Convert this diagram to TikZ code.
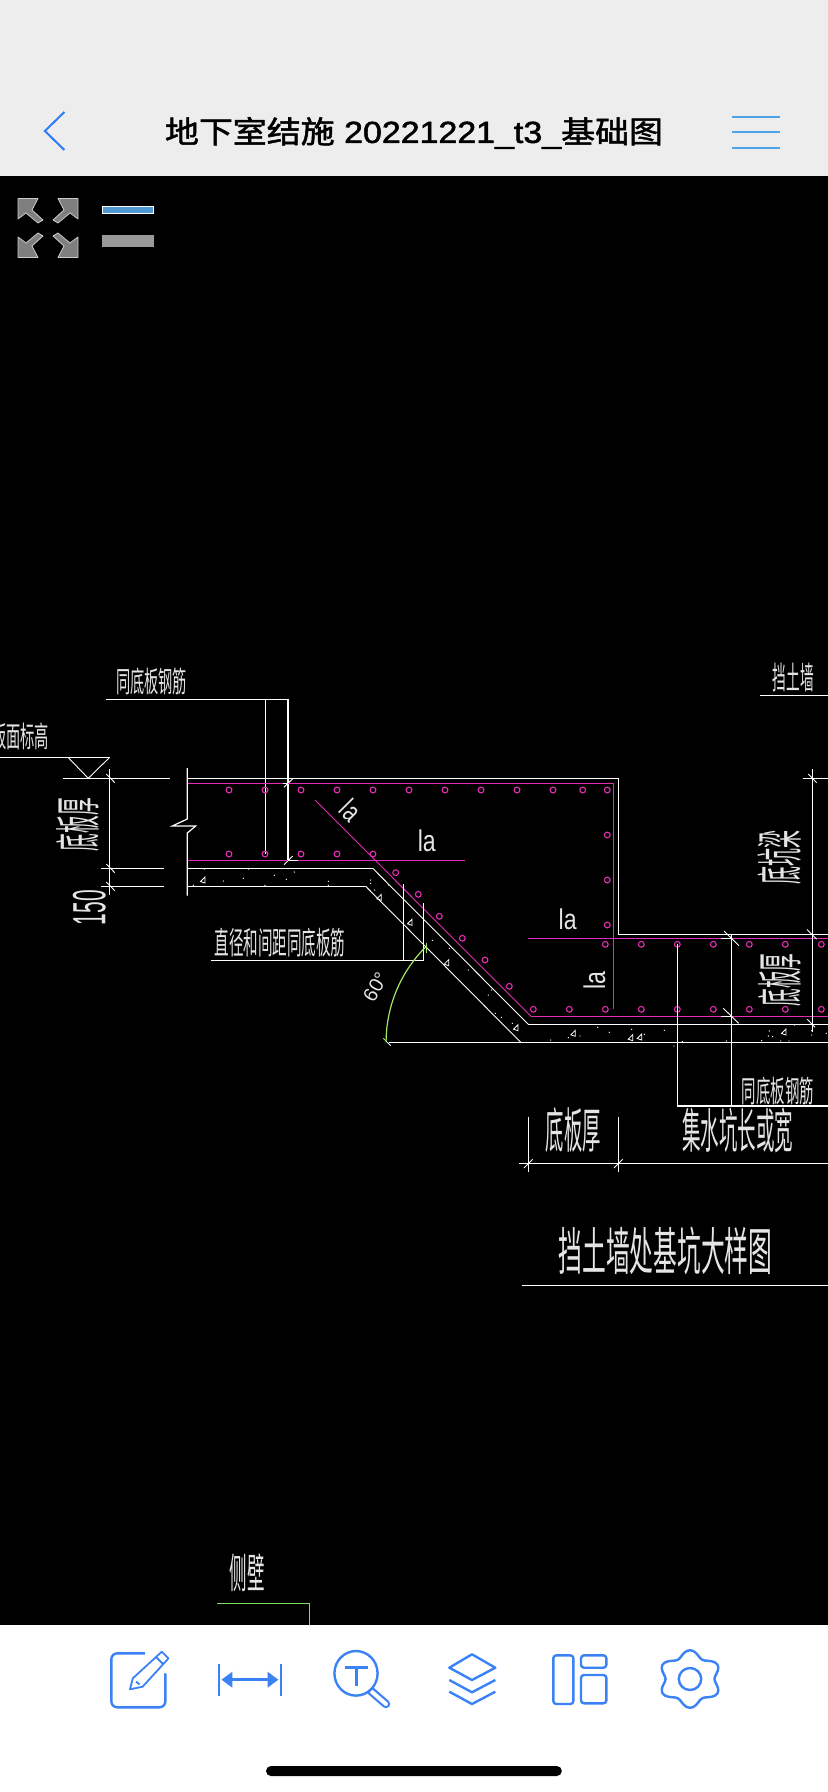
\documentclass[tikz,border=0pt]{standalone}
\usepackage{graphicx}
\usepackage{fontspec}
\setmainfont{Liberation Sans}
\newfontfamily\cjk{Noto Sans CJK SC}
\newfontfamily\cjkmed[FakeBold=1.6]{Noto Sans CJK SC}
\newfontfamily\latmed[FakeBold=1.6]{Liberation Sans}
\newdimen\pxu \pxu=0.5pt
\newcommand\cadt[3]{\resizebox*{#1\pxu}{#2\pxu}{#3}}
\definecolor{hdr}{HTML}{EDEDED}
\definecolor{appblue}{HTML}{3B82F6}
\definecolor{backblue}{HTML}{2F7BF6}
\definecolor{menublue}{HTML}{4BA3EA}
\definecolor{barblue}{HTML}{4F98D2}
\definecolor{rebar}{HTML}{E62BB4}
\definecolor{cadgreen}{HTML}{A4E86A}
\definecolor{sidegreen}{HTML}{7EE05A}
\definecolor{icongray}{HTML}{7F7F7F}
\tikzset{
  wl/.style={draw=white,line width=0.6pt},
  wthin/.style={draw=white,line width=0.45pt},
  mg/.style={draw=rebar,line width=0.6pt},
  mgthin/.style={draw=rebar,line width=0.45pt},
  bar/.style={draw=rebar,line width=0.55pt},
  lbl/.style={text=white!90!black,inner sep=0pt,font=\cjk},
  latin/.style={text=white!90!black,inner sep=0pt,font=\rmfamily},
  icon/.style={draw=appblue,line width=1.2pt,line join=round},
  arrowicon/.style={fill=icongray,draw=white!80!black,line width=0.4pt,line join=round},
}
\begin{document}
\begin{tikzpicture}[x=0.5pt,y=-0.5pt]
\useasboundingbox (0,0) rectangle (828,1792);
% backgrounds
\fill[hdr] (0,0) rectangle (828,176);
\fill[black] (0,176) rectangle (828,1625);
\begin{scope}
\clip (0,176) rectangle (828,1625);
% outer concrete lines
\draw[wl] (187.3,778.3) -- (618.3,778.3) -- (618.3,934.3) -- (828,934.3);
\draw[wl] (63,778.3) -- (170,778.3);
\draw[wl] (803,778.3) -- (828,778.3);
\draw[wl] (187.3,768) -- (187.3,819) -- (172.3,826) -- (195.7,826) -- (187.3,833) -- (187.3,895.7);
\draw[wl] (187.3,868.3) -- (372.7,868.3);
\draw[wthin] (372.7,868.3) -- (528.3,1024.3);
\draw[wl] (528.3,1024.3) -- (828,1024.3);
\draw[wl] (187.3,886.3) -- (365.7,886.3);
\draw[wthin] (365.7,886.3) -- (520.7,1042.3);
\draw[wl] (389,1042.3) -- (828,1042.3);
% level mark
\draw[wl] (0,757.3) -- (109.7,757.3);
\draw[wthin] (68,757.3) -- (88.3,778.3) -- (109.7,757.3);
% left dims
\draw[wl] (109.3,769) -- (109.3,895);
\draw[wl] (101,868.3) -- (164,868.3);
\draw[wl] (101,886.3) -- (164,886.3);
\foreach \y in {778.3,868.3,886.3} \draw[wthin] (106.3,\y-4.3) -- (114.7,\y+4.3);
% leader top
\draw[wl] (106,699.3) -- (288,699.3) -- (288,860.3);
\draw[wl] (265.3,699.3) -- (265.3,854);
\draw[wthin] (284,787.3) -- (292.7,778.7);
\draw[wl] (282.7,783.3) -- (288,783.3);
\draw[wthin] (284,864.7) -- (292.7,856);
% magenta bars
\draw[mg] (188,783.3) -- (282.7,783.3);
\draw[mg] (288,783.3) -- (613.3,783.3) -- (613.3,1009.3);
\draw[mg] (188,860.3) -- (288,860.3);
\draw[mg] (298,860.3) -- (465,860.3);
\draw[wl] (288,860.3) -- (298,860.3);
\draw[mgthin] (315,800) -- (531,1016.3);
\draw[mg] (531,1016.3) -- (721,1016.3);
\draw[mg] (731.3,1016.3) -- (828,1016.3);
\draw[mg] (528,938.3) -- (721,938.3);
\draw[mg] (731.3,938.3) -- (828,938.3);
\draw[wl] (721,1016.3) -- (731.3,1016.3);
\draw[wl] (721,938.3) -- (731.3,938.3);
% rebars
\foreach \x in {229,265,301,337,373,409,445,481,517,553,582.7,607.3} \draw[bar] (\x,790) circle[radius=2.9];
\foreach \x in {229,265,301,337,373} \draw[bar] (\x,854) circle[radius=2.9];
\foreach \y in {835,880,925} \draw[bar] (607.3,\y) circle[radius=2.9];
\foreach \x/\y in {395.7/872.7,418.3/894.3,439.3/916.3,462.3/938.3,485/960,509.3/986.3} \draw[bar] (\x,\y) circle[radius=2.9];
\foreach \x in {533.3,569.3,605.3,641.3,677.3,713.3,749.3,785.3,821.3} \draw[bar] (\x,1009.3) circle[radius=2.9];
\foreach \x in {605.3,641.3,677.3,713.3,749.3,785.3,821.3} \draw[bar] (\x,944.3) circle[radius=2.9];
% diagonal leader
\draw[wl] (211,960.3) -- (423.7,960.3) -- (423.7,903.3);
\draw[wl] (403.3,960.3) -- (403.3,884.3);
% green arc
\draw[cadgreen,line width=0.6pt] plot[smooth,domain=135:180,samples=24] ({520.7+134.6*cos(\x)},{1042.3-134.6*sin(\x)});
\draw[cadgreen,line width=0.6pt] (426.3,942.7) -- (426.3,952.7);
\draw[cadgreen,line width=0.5pt] (383.3,1038.3) -- (387.3,1042.3);
\draw[wthin] (387.3,1042.3) -- (390.7,1045.7);
% right dims
\draw[wl] (677.3,944.3) -- (677.3,1106) -- (828,1106);
\draw[wl] (731.3,934.3) -- (731.3,1106);
\draw[wl] (812.3,769) -- (812.3,1032);
\draw[wthin] (724,931) -- (739,945.7);
\draw[wthin] (723.3,1008.3) -- (738.7,1023.3);
\draw[wthin] (808.3,774) -- (816.7,782.7);
\draw[wthin] (807,929.5) -- (816.5,939);
\draw[wthin] (807.3,1019.3) -- (815,1027.3);
% top right leader
\draw[wl] (760,695.3) -- (828,695.3);
% bottom dim
\draw[wl] (519.3,1163.3) -- (828,1163.3);
\draw[wl] (528.3,1116.7) -- (528.3,1171.7);
\draw[wl] (618.3,1116.7) -- (618.3,1171.7);
\draw[wthin] (524,1168) -- (532.7,1159.3);
\draw[wthin] (614,1168) -- (622.7,1159.3);
% title underline
\draw[wl] (522,1285.3) -- (828,1285.3);
% side wall
\draw[sidegreen,line width=0.5pt] (217,1603.3) -- (309,1603.3) -- (309,1625);
% concrete hatch: dots
\foreach \x/\y in {204.3/869,248.3/869,193.3/885.3,223.3/881,243.3/878.3,265/885.3,274.3/875.3,286.3/879.3,294.3/872,328.3/881.3,328.3/885.3,
  370.7/880,370.7/883.3,374.7/890,388.7/885,432.3/940.3,449.3/948.3,468.3/970,488.3/995,491.7/990,495.3/1013.3,501.3/1017.3,512.3/1023.3,
  550.7/1040,568.3/1037.7,580/1036,597.7/1027.3,609.3/1032.3,629.3/1039.3,
  631.7/1029.3,644.3/1034.3,664.3/1030.3,674/1046,682.3/1041.7,726.3/1041,769.3/1031,789/1041,
  761.7/1040.7,768.3/1036,772.7/1036.7,780.7/1041,794.3/1025,811.7/1035,811.7/1030.7,826.3/1033.3}
  \fill[white] (\x,\y) circle[radius=0.7];
% concrete hatch: triangles
\foreach \x/\y in {203/880,379.3/897.3,410/922.3,446.7/962.7,516/1027.7,573.3/1033.3,630.7/1037.7,639.7/1037,784/1032}
  \draw[white,line width=0.4pt] (\x-2.5,\y+1.5) -- (\x+2,\y-3) -- (\x+2,\y+3) -- cycle;
% labels
\node[lbl] (n1) at (151.5,681.5) {\cadt{71}{27}{同底板钢筋}};
\node[lbl] (n2) at (20.5,736.5) {\cadt{57}{27}{板面标高}};
\node[lbl,rotate=90] (n3) at (78.3,824.5) {\cadt{53}{43}{底板厚}};
\node[latin,rotate=90] (n4) at (89.3,907.5) {\cadt{35}{33}{150}};
\node[latin,rotate=-45] (n5) at (350.7,810.3) {\cadt{16}{21}{la}};
\node[latin] (n6) at (426.8,841) {\cadt{18}{22}{la}};
\node[latin] (n7) at (567.7,919.5) {\cadt{18}{21}{la}};
\node[latin,rotate=90] (n8) at (594.5,980.5) {\cadt{18}{22}{la}};
\node[latin,rotate=60] (n9) at (375.5,987) {\cadt{30}{14}{60°}};
\node[lbl] (n10) at (280,943) {\cadt{131}{29}{直径和间距同底板筋}};
\node[lbl] (n11) at (793.3,677.2) {\cadt{41}{29}{挡土墙}};
\node[lbl,rotate=90] (n12) at (780,857) {\cadt{54}{44}{底坑梁}};
\node[lbl,rotate=90] (n13) at (780,980) {\cadt{53}{43}{底板厚}};
\node[lbl] (n14) at (777.8,1090.8) {\cadt{72}{28}{同底板钢筋}};
\node[lbl] (n15) at (573.3,1130.5) {\cadt{55}{45}{底板厚}};
\node[lbl] (n16) at (737.8,1130.8) {\cadt{111}{45}{集水坑长或宽}};
\node[lbl] (n17) at (665.5,1250.5) {\cadt{214}{48}{挡土墙处基坑大样图}};
\node[lbl] (n18) at (247.3,1572.8) {\cadt{35}{38}{侧壁}};
\end{scope}
% header
\draw[backblue,line width=1pt] (64.4,112) -- (44.9,131) -- (64.4,150);
\node[inner sep=0pt,text=black] (title) at (414,133) {\cadt{498}{32}{{\cjkmed 地下室结施} {\latmed 20221221\_t3\_}{\cjkmed 基础图}}};
\foreach \y in {117,131.7,147.7} \draw[menublue,line width=1pt] (732,\y) -- (780,\y);
% expand arrows
\foreach \sx/\sy in {1/1,-1/1,1/-1,-1/-1}
  \draw[arrowicon] ({48-\sx*30},{228-\sy*29.5}) -- ({48-\sx*10},{228-\sy*29.5}) -- ({48-\sx*16},{228-\sy*18}) -- ({48-\sx*5},{228-\sy*8}) -- ({48-\sx*10},{228-\sy*5}) -- ({48-\sx*22},{228-\sy*15}) -- ({48-\sx*30},{228-\sy*9}) -- cycle;
% layer bars
\draw[fill=barblue,draw=white,line width=0.8pt] (102.5,206.5) rectangle (153.5,213.5);
\fill[black!40!white] (102,235) rectangle (154,247);
% bottom bar
\fill[white] (0,1625) rectangle (828,1792);
% edit
\draw[icon,rounded corners=3pt] (144.8,1653.3) -- (111.3,1653.3) -- (111.3,1707.3) -- (165.4,1707.3) -- (165.4,1673.3);
\draw[icon,line width=0.9pt] (132.8,1678.3) -- (161.8,1651.7) -- (168.5,1658.3) -- (142.6,1686.7) -- (130,1689.3) -- cycle;
\draw[icon,line width=0.9pt] (156,1657) -- (163,1664);
\draw[icon,line width=0.9pt] (136,1681.5) -- (139.5,1684.5);
% measure
\draw[appblue,line width=0.9pt] (219,1664.3) -- (219,1695.7);
\draw[appblue,line width=0.9pt] (281,1664.3) -- (281,1695.7);
\draw[appblue,line width=1.4pt] (230,1679.7) -- (270,1679.7);
\fill[appblue] (221.6,1679.7) -- (232.3,1671.7) -- (232.3,1687.7) -- cycle;
\fill[appblue] (278.3,1679.7) -- (267.6,1671.7) -- (267.6,1687.7) -- cycle;
% search text
\draw[appblue,line width=4.2pt,line cap=round] (371,1691) -- (386,1704);
\draw[white,line width=2pt,line cap=round] (372,1692) -- (386,1704);
\fill[white] (356,1673.3) ellipse[x radius=21.6,y radius=22.3];
\draw[icon] (356,1673.3) ellipse[x radius=21.6,y radius=22.3];
\draw[icon,line width=1.5pt] (344.8,1667.7) -- (368,1667.7);
\draw[icon,line width=1.5pt] (356,1667.7) -- (356,1686);
% layers
\draw[icon] (472,1654.3) -- (495.3,1667.7) -- (472,1680) -- (449.3,1667.7) -- cycle;
\draw[icon] (449.3,1680) -- (472,1692.3) -- (495.3,1680);
\draw[icon] (449.3,1691.7) -- (472,1704) -- (495.3,1691.7);
% layout
\draw[icon,rounded corners=1.5pt] (553.3,1655.3) rectangle (573.4,1704);
\draw[icon,rounded corners=1.5pt] (581,1655.3) rectangle (606.4,1667.7);
\draw[icon,rounded corners=1.5pt] (581,1675) rectangle (606.4,1703.3);
% gear
\draw[icon] plot[smooth cycle,domain=0:354,samples=60] ({690+1.1*(25.5-3.3*cos(6*\x))*cos(\x)},{1679+(25.5-3.3*cos(6*\x))*sin(\x)});
\draw[icon] (690,1679) ellipse[x radius=11.2,y radius=11];
% home indicator
\fill[black,rounded corners=2.5pt] (266,1766) rectangle (561.8,1776);
\end{tikzpicture}
\end{document}
